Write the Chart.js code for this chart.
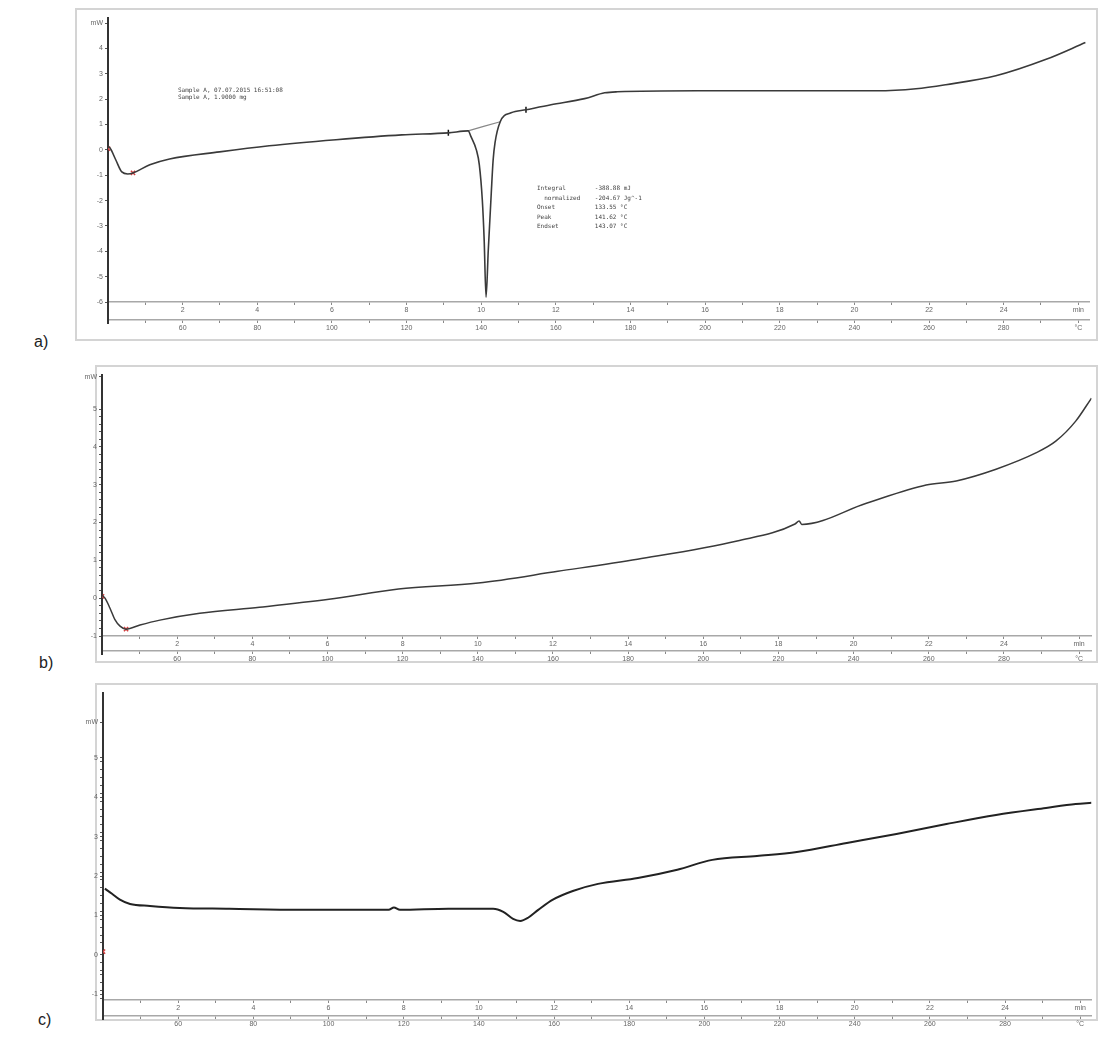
<!DOCTYPE html>
<html>
<head>
<meta charset="utf-8">
<script src="https://cdn.jsdelivr.net/npm/chart.js@4.4.1/dist/chart.umd.min.js"></script>
<style>
  body { margin: 0; background: #fff; width: 1099px; height: 1039px; position: relative; overflow: hidden; font-family: 'Liberation Sans', Arial, sans-serif; }
  .frame { position: absolute; border: 2px solid #d4d4d4; box-sizing: border-box; }
  canvas { position: absolute; }
  .tag { position: absolute; font-size: 16px; color: #222; }
  .note { position: absolute; font-size: 6px; line-height: 7px; color: #444; white-space: pre; font-family: 'DejaVu Sans Mono', monospace; }
</style>
</head>
<body>
<div class="frame" style="left:75px;top:8px;width:1023px;height:333px"></div>
<div class="frame" style="left:95px;top:365px;width:1003px;height:298px"></div>
<div class="frame" style="left:95px;top:683px;width:1003px;height:338px"></div>

<div class="tag" style="left:34px;top:333px">a)</div>
<div class="tag" style="left:39px;top:654px">b)</div>
<div class="tag" style="left:38px;top:1011px">c)</div>

<canvas id="chartA" width="1018" height="328" style="left:77px;top:10px"></canvas>
<canvas id="chartB" width="1026" height="300" style="left:71px;top:367px"></canvas>
<canvas id="chartC" width="1025" height="347" style="left:72px;top:685px"></canvas>

<div class="note" style="left:178px;top:86px">Sample A, 07.07.2015 16:51:08
Sample A, 1.9000 mg</div>
<div class="note" style="left:537px;top:183px;line-height:9.5px">Integral        -388.88 mJ
  normalized    -204.67 Jg^-1
Onset           133.55 °C
Peak            141.62 °C
Endset          143.07 °C</div>

<script>
// axis labels (shared by all three runs, 10 K/min from 40 °C)
const minuteTicks = [0,1,2,3,4,5,6,7,8,9,10,11,12,13,14,15,16,17,18,19,20,21,22,23,24,25,26];
const labelledMinutes = [2,4,6,8,10,12,14,16,18,20,22,24,26];
const minuteLabels = ['2','4','6','8','10','12','14','16','18','20','22','24','min'];
const tempLabels = ['60','80','100','120','140','160','180','200','220','240','260','280','°C'];

// a) first run
const timeA = [0, 0.05, 0.21, 0.37, 0.53, 0.67, 1.12, 1.65, 2.99, 4.32, 6.11, 7.87, 9.12, 9.65, 9.73, 9.87, 9.95, 10.03, 10.08, 10.13, 10.19, 10.27, 10.32, 10.37, 10.51, 10.8, 11.2, 11.87, 12.77, 13.31, 13.65, 15.79, 18.45, 20.59, 21.65, 22.45, 23.79, 25.12, 26.19];
const heatA = [0.12, 0.08, -0.40, -0.87, -0.95, -0.91, -0.59, -0.36, -0.08, 0.16, 0.40, 0.59, 0.67, 0.75, 0.51, 0, -0.59, -1.98, -3.56, -5.81, -3.95, -1.70, -0.40, 0.28, 1.11, 1.46, 1.58, 1.78, 2.02, 2.25, 2.29, 2.33, 2.33, 2.33, 2.41, 2.57, 2.92, 3.56, 4.23];
const baseTimeA = [9.65, 10.51];
const baseHeatA = [0.75, 1.11];
const limitTimeA = [9.12, 11.2];
const limitHeatA = [0.67, 1.58];
const startTimeA = [0, 0.67];
const startHeatA = [0.05, -0.91];
const yTicksA = [-6, -5, -4, -3, -2, -1, 0, 1, 2, 3, 4, 5];
const yLabelsA = ['-6', '-5', '-4', '-3', '-2', '-1', '0', '1', '2', '3', '4', 'mW'];

// b) second run
const timeB = [0, 0.08, 0.21, 0.34, 0.48, 0.64, 1.01, 1.54, 2.6, 4.19, 6.04, 7.89, 10.01, 12.13, 14.25, 16.9, 18.44, 18.55, 18.62, 20.34, 21.93, 22.73, 23.79, 24.85, 25.38, 25.91, 26.33];
const heatB = [0.08, 0, -0.26, -0.56, -0.74, -0.82, -0.71, -0.58, -0.40, -0.24, -0.03, 0.24, 0.40, 0.71, 1.03, 1.51, 1.96, 2.04, 1.95, 2.51, 2.99, 3.10, 3.41, 3.84, 4.15, 4.68, 5.29];
const startTimeB = [0, 0.64];
const startHeatB = [0.05, -0.82];
const yTicksB = [-1, 0, 1, 2, 3, 4, 5, 5.85];
const yLabelsB = ['-1', '0', '1', '2', '3', '4', '5', 'mW'];

// c) third run
const timeC = [0.05, 0.24, 0.45, 0.72, 1.25, 2.04, 3.36, 5.22, 7.6, 7.74, 7.9, 9.19, 10.38, 10.65, 10.91, 11.1, 11.31, 11.58, 11.97, 12.5, 13.17, 14.23, 15.28, 16.21, 17.4, 18.46, 19.79, 21.11, 22.44, 23.76, 25.09, 25.88, 26.3];
const heatC = [1.68, 1.55, 1.40, 1.29, 1.24, 1.19, 1.17, 1.14, 1.14, 1.20, 1.14, 1.17, 1.17, 1.09, 0.91, 0.86, 0.94, 1.14, 1.40, 1.62, 1.80, 1.95, 2.16, 2.41, 2.51, 2.61, 2.84, 3.07, 3.32, 3.55, 3.73, 3.83, 3.86];
const startTimeC = [0];
const startHeatC = [0.08];
const yTicksC = [-1, 0, 1, 2, 3, 4, 5, 5.9];
const yLabelsC = ['-1', '0', '1', '2', '3', '4', '5', 'mW'];

const tickFont = { family: "'Liberation Sans', Arial, sans-serif", size: 7 };

function pts(xs, ys) {
  return xs.map((x, i) => ({ x: x, y: ys[i] }));
}

// draw the heavy y axis line down through both time/temperature axes
const axisTail = {
  id: 'axisTail',
  afterDraw(chart) {
    const { ctx, chartArea, scales } = chart;
    ctx.save();
    ctx.strokeStyle = '#333';
    ctx.lineWidth = 2;
    ctx.beginPath();
    ctx.moveTo(chartArea.left, chartArea.bottom);
    ctx.lineTo(chartArea.left, scales.x2.top + 4);
    ctx.stroke();
    ctx.restore();
  }
};

function xAxis(labels, height, xMax, border) {
  return {
    type: 'linear',
    position: 'bottom',
    min: 0,
    max: xMax,
    afterBuildTicks: (scale) => { scale.ticks = minuteTicks.map(v => ({ value: v })); },
    afterFit: (scale) => { scale.height = height; },
    border: { color: border, width: 1.5 },
    grid: { drawOnChartArea: false, tickLength: 3, color: '#888' },
    ticks: {
      autoSkip: false, maxRotation: 0, padding: 1, font: tickFont, color: '#666',
      callback: (v) => {
        const i = labelledMinutes.indexOf(v);
        return i >= 0 ? labels[i] : '';
      }
    }
  };
}

function makeChart(id, datasets, o) {
  let yValues = o.yTicks.slice();
  if (o.minor) {
    for (let v = o.yMin; v <= o.yTicks[o.yTicks.length - 2] + 0.001; v += 0.2) {
      const r = Math.round(v * 10) / 10;
      if (!yValues.includes(r)) yValues.push(r);
    }
  }
  return new Chart(document.getElementById(id), {
    type: 'line',
    data: { datasets: datasets },
    options: {
      responsive: false,
      animation: false,
      parsing: false,
      layout: { padding: { top: 8, right: 1, bottom: 2, left: 0 } },
      plugins: { legend: { display: false }, tooltip: { enabled: false } },
      scales: {
        x: xAxis(minuteLabels, o.xH, o.xMax, '#a8a8a8'),
        x2: xAxis(tempLabels, o.x2H, o.xMax, '#a8a8a8'),
        y: {
          type: 'linear',
          min: o.yMin,
          max: o.yMax,
          afterBuildTicks: (scale) => { scale.ticks = yValues.map(v => ({ value: v })); },
          afterFit: (scale) => { scale.width = 31; },
          border: { color: '#333', width: 2 },
          grid: { drawOnChartArea: false, tickLength: 3, color: '#555' },
          ticks: {
            autoSkip: false, padding: 2, font: tickFont, color: '#666',
            callback: (v) => {
              const i = o.yTicks.indexOf(v);
              return i >= 0 ? o.yLabels[i] : '';
            }
          }
        }
      }
    },
    plugins: [axisTail]
  });
}

function curve(xs, ys, color, width) {
  return {
    data: pts(xs, ys), borderColor: color, borderWidth: width,
    pointRadius: 0, cubicInterpolationMode: 'monotone', fill: false
  };
}

function marks(xs, ys, color, style) {
  return {
    type: 'scatter', data: pts(xs, ys), borderColor: color, backgroundColor: color,
    pointStyle: style, pointRadius: 3, borderWidth: 1.5, pointRotation: style === 'line' ? 90 : 0
  };
}

makeChart('chartA', [
  curve(timeA, heatA, '#3a3a3a', 1.6),
  curve(baseTimeA, baseHeatA, '#888', 1.2),
  marks(limitTimeA, limitHeatA, '#111', 'line'),
  marks(startTimeA, startHeatA, '#d04040', 'crossRot')
], { yMin: -6, yMax: 5.2, yTicks: yTicksA, yLabels: yLabelsA, xMax: 26.3, xH: 18, x2H: 16, minor: false });

makeChart('chartB', [
  curve(timeB, heatB, '#3a3a3a', 1.5),
  marks(startTimeB, startHeatB, '#d04040', 'crossRot')
], { yMin: -1, yMax: 5.9, yTicks: yTicksB, yLabels: yLabelsB, xMax: 26.33, xH: 15, x2H: 14, minor: true });

makeChart('chartC', [
  curve(timeC, heatC, '#222', 2),
  marks(startTimeC, startHeatC, '#d04040', 'crossRot')
], { yMin: -1.15, yMax: 6.65, yTicks: yTicksC, yLabels: yLabelsC, xMax: 26.3, xH: 16, x2H: 14, minor: true });
</script>
</body>
</html>
